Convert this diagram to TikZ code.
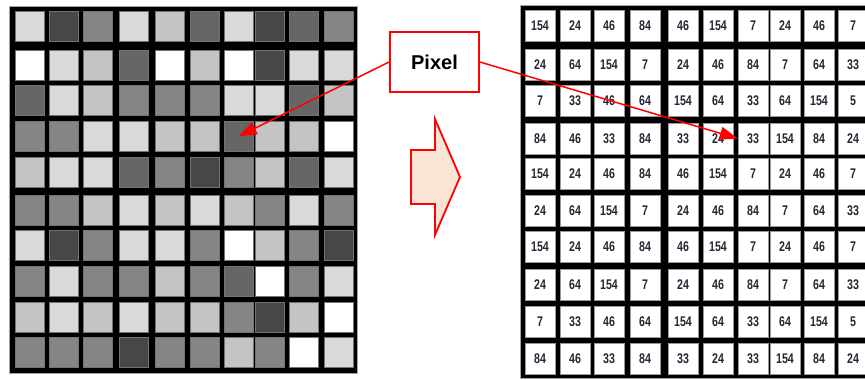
\documentclass[tikz,border=0pt]{standalone}
\usepackage{fontspec}
\usepackage{graphicx}
\setmainfont{Liberation Sans}
\usetikzlibrary{arrows.meta}

% grey levels of the image pixels
\definecolor{pxW}{gray}{1.00}
\definecolor{pxL}{gray}{0.85}
\definecolor{pxM}{gray}{0.77}
\definecolor{pxG}{gray}{0.52}
\definecolor{pxD}{gray}{0.40}
\definecolor{pxK}{gray}{0.28}
\definecolor{numink}{RGB}{38,38,52}
\definecolor{blockfill}{RGB}{250,228,214}

\tikzset{
  pxcell/.style={draw=black!55, line width=0.4pt, inner sep=0pt,
                 minimum width=29.5pt, minimum height=30.5pt},
  numcell/.style={fill=white, draw=black!40, line width=0.4pt, inner sep=0pt,
                  minimum width=30pt, minimum height=31pt, text=numink,
                  font=\bfseries\fontsize{14}{14}\selectfont},
  gridframe/.style={fill=black, draw=black!35, line width=0.8pt},
  callout/.style={draw=red, fill=white, line width=1.8pt, inner sep=0pt,
                  minimum width=89pt, minimum height=60pt,
                  font=\bfseries\fontsize{20}{20}\selectfont},
  pointer/.style={draw=red, line width=1.5pt,
                  -{Triangle[length=18pt,width=13pt]}},
}

\begin{document}
\begin{tikzpicture}[x=1pt, y=-1pt]
\useasboundingbox (0,0) rectangle (865,380);

% ---- grey-level image ----
\filldraw[gridframe] (9,6) rectangle (357,373);
\foreach \rowlist [count=\r] in {
  {L,K,G,L,M,D,L,K,D,G},
  {W,L,M,D,W,M,W,K,L,L},
  {D,L,M,G,G,G,L,L,D,M},
  {G,G,L,L,M,M,D,M,M,W},
  {M,L,L,D,G,K,G,M,D,L},
  {G,G,M,L,M,L,M,G,L,G},
  {L,K,G,L,L,G,W,M,G,K},
  {G,L,G,G,M,G,D,W,G,L},
  {M,L,M,L,M,M,G,K,M,W},
  {G,G,G,K,G,G,M,G,W,L}} {
  \foreach \s [count=\c] in \rowlist {
    \pgfmathsetmacro\xx{{15,49,83,119,155,190,224,255,289,324}[\c-1]+14.75}
    \pgfmathsetmacro\yy{{11,50,85,121,157,195,230,266,302,337}[\r-1]+15.25}
    \node[pxcell, fill=px\s] (L-\r-\c) at (\xx,\yy) {};
  }
}

% ---- matrix of pixel values ----
\filldraw[gridframe] (520,5) rectangle (875,378);
\foreach \rowlist [count=\r] in {
  {154,24,46,84,46,154,7,24,46,7},
  {24,64,154,7,24,46,84,7,64,33},
  {7,33,46,64,154,64,33,64,154,5},
  {84,46,33,84,33,24,33,154,84,24},
  {154,24,46,84,46,154,7,24,46,7},
  {24,64,154,7,24,46,84,7,64,33},
  {154,24,46,84,46,154,7,24,46,7},
  {24,64,154,7,24,46,84,7,64,33},
  {7,33,46,64,154,64,33,64,154,5},
  {84,46,33,84,33,24,33,154,84,24}} {
  \foreach \v [count=\c] in \rowlist {
    \pgfmathsetmacro\xx{{525,560,594,630,668,703,738,770,804,838}[\c-1]+15}
    \pgfmathsetmacro\yy{{10,49,85,123,158,195,231,269,306,343}[\r-1]+15.5}
    \node[numcell] (R-\r-\c) at (\xx,\yy) {\scalebox{0.76}[1]{\v}};
  }
}

% ---- conversion arrow ----
\draw[red, line width=1.8pt, fill=blockfill, line join=miter]
  (411,150) -- (435,150) -- (435,119) -- (460,177) -- (435,235)
  -- (435,204) -- (411,204) -- cycle;

% ---- callout ----
\node[callout] (pixel) at (434.5,62) {Pixel};
\draw[pointer] (pixel.west) -- (L-4-7.center);
\draw[pointer] (pixel.east) -- (R-4-7.west);
\end{tikzpicture}
\end{document}
